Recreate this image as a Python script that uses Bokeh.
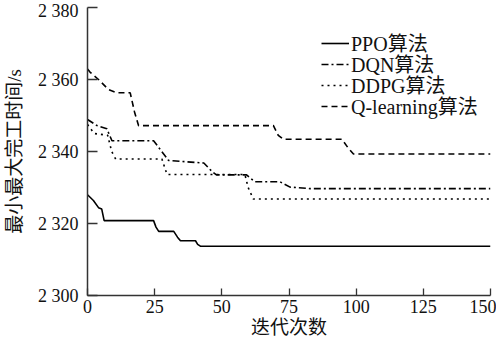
from bokeh.plotting import figure
from bokeh.models import FixedTicker, Range1d, Legend, LegendItem
from bokeh.embed import file_html
from bokeh.resources import INLINE

# ---- data ----
ppo_x = [0, 2.2, 4.1, 5.3, 6.2, 24.6, 25.5, 26.5, 32.1, 33.5, 34.6, 40.2, 41, 42, 150]
ppo_y = [2328, 2326.4, 2324.4, 2324, 2320.8, 2320.8, 2319.0, 2317.8, 2317.8, 2316.2, 2315.2, 2315.2, 2314.2, 2313.7, 2313.7]

dqn_x = [0, 3.5, 7.2, 9.1, 24.6, 30.2, 43.3, 46.4, 48, 59.2, 62.3, 71.6, 75.4, 82.8, 150]
dqn_y = [2348.9, 2347.2, 2346.3, 2343, 2343, 2337.5, 2336.8, 2334.4, 2333.5, 2333.5, 2331.6, 2331.6, 2330.1, 2329.7, 2329.7]

ddpg_x = [0, 2.5, 7.5, 9, 10.5, 27.7, 29.6, 58.6, 59.8, 61.7, 150]
ddpg_y = [2347.5, 2345, 2344.5, 2340, 2337.9, 2337.9, 2333.6, 2333.6, 2330, 2326.8, 2326.8]

q_x = [0, 1, 4.1, 7.8, 10.9, 15.9, 17.5, 19, 69.2, 71, 72.9, 94.7, 97, 99, 150]
q_y = [2362.9, 2362, 2360, 2357.2, 2356.3, 2356.3, 2351, 2347.2, 2347.2, 2344.5, 2343.4, 2343.4, 2341, 2339.3, 2339.3]

series_names = ["PPO算法", "DQN算法", "DDPG算法", "Q-learning算法"]

x_ticks = [0, 25, 50, 75, 100, 125, 150]
y_ticks = [2300, 2320, 2340, 2360, 2380]
y_tick_labels = ["2 300", "2 320", "2 340", "2 360", "2 380"]

x_title = "迭代次数"
y_title = "最小最大完工时间/s"

FONT = "'Liberation Serif', 'Noto Sans CJK SC', serif"
TXT = "#111111"

p = figure(width=496, height=340, output_backend="svg", toolbar_location=None,
           x_range=Range1d(0, 150), y_range=Range1d(2300, 2380),
           min_border_left=80, min_border_right=6, min_border_top=7, min_border_bottom=44)
p.outline_line_color = None
p.grid.visible = False

dashes = ["solid", "7 3 2 3", "2 4", "6 4"]
xs_all = [ppo_x, dqn_x, ddpg_x, q_x]
ys_all = [ppo_y, dqn_y, ddpg_y, q_y]
renderers = []
for xs, ys, dash in zip(xs_all, ys_all, dashes):
    renderers.append(p.line(xs, ys, line_color="black", line_width=1.6, line_dash=dash))

for ax in (p.xaxis[0], p.yaxis[0]):
    ax.axis_line_color = "#333333"
    ax.axis_line_width = 1.5
    ax.major_tick_line_color = "#333333"
    ax.major_tick_line_width = 1.3
    ax.major_tick_out = 0
    ax.minor_tick_in = 0
    ax.minor_tick_out = 0
    ax.major_label_text_font = FONT
    ax.major_label_text_font_size = "18px"
    ax.major_label_text_color = TXT
    ax.axis_label_text_font = FONT
    ax.axis_label_text_font_size = "19px"
    ax.axis_label_text_font_style = "normal"
    ax.axis_label_text_color = TXT

p.xaxis.ticker = FixedTicker(ticks=x_ticks)
p.xaxis.major_tick_in = 7
p.xaxis.major_label_standoff = 4
p.xaxis.axis_label = x_title
p.xaxis.axis_label_standoff = 1

p.yaxis.ticker = FixedTicker(ticks=y_ticks)
p.yaxis.major_label_overrides = dict(zip(y_ticks, y_tick_labels))
p.yaxis.major_tick_in = 10
p.yaxis.major_label_standoff = 9
p.yaxis.axis_label = y_title
p.yaxis.axis_label_standoff = 10

# one legend box per row so that the row pitch matches the reference
legend_rows_y = [238, 217, 196, 175]
for name, r, ly in zip(series_names, renderers, legend_rows_y):
    lg = Legend(items=[LegendItem(label=name, renderers=[r])], location=(234, ly))
    lg.border_line_color = None
    lg.background_fill_alpha = 0
    lg.label_text_font = FONT
    lg.label_text_font_size = "20px"
    lg.label_text_color = TXT
    lg.glyph_width = 28
    lg.glyph_height = 20
    lg.label_height = 20
    lg.label_standoff = 2
    lg.padding = 0
    lg.margin = 0
    p.add_layout(lg)

open("out.html", "w").write(file_html(p, INLINE))
